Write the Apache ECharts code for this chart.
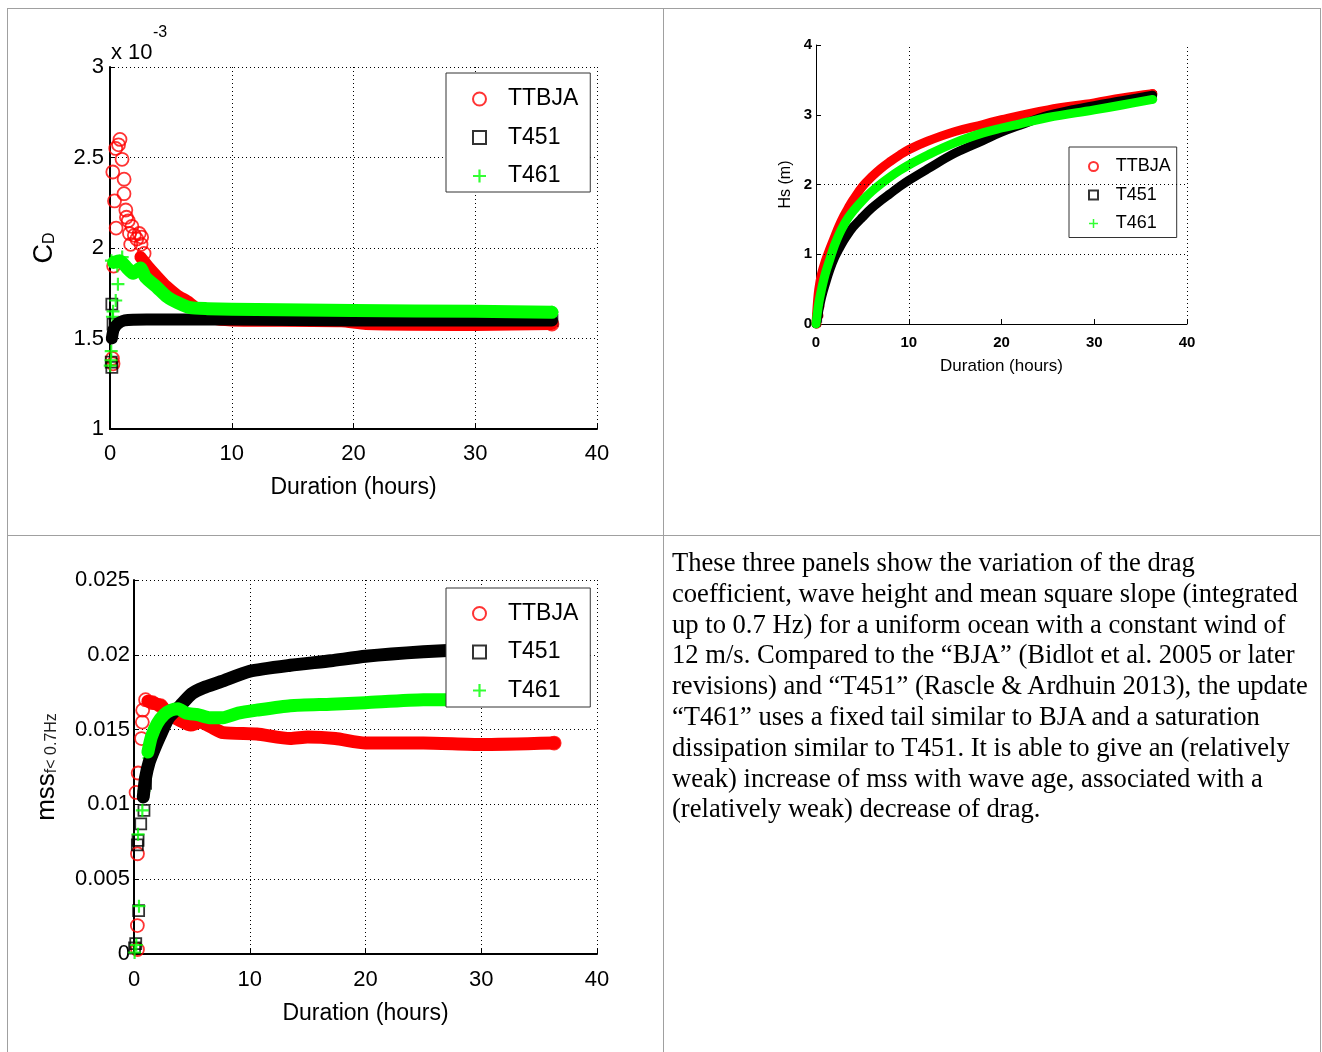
<!DOCTYPE html>
<html>
<head>
<meta charset="utf-8">
<script src="https://cdn.jsdelivr.net/npm/echarts@6/dist/echarts.min.js"></script>
<style>
    body { margin: 0; background: #fff; }
    #chart { position: absolute; left: 0; top: 0; width: 1322px; height: 1052px; }
    .rule { position: absolute; background: #a0a0a0; }
    #caption {
        position: absolute; left: 672px; top: 547px;
        font-family: "Liberation Serif", "Times New Roman", serif;
        font-size: 26.6px; line-height: 30.8px; color: #000; white-space: nowrap;
    }
</style>
</head>
<body>
<div id="chart"></div>
<div class="rule" style="left:7px;top:8px;width:1314px;height:1px"></div>
<div class="rule" style="left:7px;top:8px;width:1px;height:1044px"></div>
<div class="rule" style="left:1320px;top:8px;width:1px;height:1044px"></div>
<div class="rule" style="left:663px;top:8px;width:1px;height:1044px"></div>
<div class="rule" style="left:7px;top:535px;width:1314px;height:1px"></div>
<div id="caption">These three panels show the variation of the drag<br>coefficient, wave height and mean square slope (integrated<br>up to 0.7 Hz) for a uniform ocean with a constant wind of<br>12 m/s. Compared to the “BJA” (Bidlot et al. 2005 or later<br>revisions) and “T451” (Rascle &amp; Ardhuin 2013), the update<br>“T461” uses a fixed tail similar to BJA and a saturation<br>dissipation similar to T451. It is able to give an (relatively<br>weak) increase of mss with wave age, associated with a<br>(relatively weak) decrease of drag.</div>

<script>
    // series names, in legend order
    const names = ['TTBJA', 'T451', 'T461'];

    // panel 1: drag coefficient C_D (x 10^-3) vs duration (hours)
    const cdBjaMarks = [[0.23, 2.42], [0.37, 2.26], [0.47, 2.55], [0.5, 2.11], [0.3, 1.90], [0.2, 1.39], [0.25, 1.36],
        [0.82, 2.60], [0.7, 2.57], [0.99, 2.49], [1.16, 2.38], [1.15, 2.30], [1.3, 2.21], [1.35, 2.17], [1.5, 2.15],
        [1.6, 2.08], [1.8, 2.12], [2.0, 2.07], [2.2, 2.05], [2.4, 2.08], [2.55, 2.02], [2.6, 2.06], [1.7, 2.02],
        [2.8, 1.97], [36.3, 1.58]];
    const cdBjaBand = [[2.5, 1.95], [3.1, 1.90], [3.9, 1.84], [4.6, 1.79], [5.5, 1.74], [6.5, 1.70], [7.2, 1.66],
        [8.5, 1.61], [10, 1.60], [19, 1.595], [21, 1.58], [30, 1.575], [36.3, 1.58]];
    const cd451Marks = [[0.1, 1.37], [0.15, 1.34], [0.15, 1.69], [0.25, 1.58], [36.3, 1.60]];
    const cd451Band = [[0.15, 1.50], [0.3, 1.55], [0.6, 1.58], [1.2, 1.60], [3, 1.605], [10, 1.605], [20, 1.60],
        [30, 1.60], [36.3, 1.60]];
    const cd461Marks = [[0.02, 1.35], [0.1, 1.43], [0.08, 1.38], [0.2, 1.62], [0.25, 1.65], [0.47, 1.71], [0.65, 1.80],
        [0.12, 1.93], [1.0, 1.95], [0.6, 1.90], [36.3, 1.645]];
    const cd461Band = [[0.3, 1.92], [0.8, 1.93], [1.4, 1.89], [1.9, 1.86], [2.5, 1.89], [2.9, 1.84], [3.9, 1.78],
        [4.7, 1.73], [5.5, 1.70], [6.6, 1.67], [8, 1.665], [12, 1.66], [20, 1.655], [30, 1.65], [36.3, 1.645]];

    // panel 2: significant wave height Hs (m)
    const hsBjaMarks = [[0.1, 0.0], [0.3, 0.12], [0.4, 0.25], [36.3, 3.30]];
    const hsBjaBand = [[0, 0], [0.15, 0.3], [0.3, 0.5], [0.6, 0.72], [1, 0.9], [1.5, 1.08], [2, 1.25], [2.5, 1.41],
        [3, 1.55], [3.5, 1.67], [4, 1.78], [5, 1.97], [6, 2.11], [7, 2.23], [8, 2.33], [9, 2.42], [10, 2.50],
        [12, 2.62], [15, 2.76], [18, 2.86], [20, 2.93], [25, 3.07], [30, 3.17], [33, 3.24], [36.3, 3.30]];
    const hs451Marks = [[0.05, 0.02], [0.2, 0.08], [0.3, 0.15], [36.3, 3.28]];
    const hs451Band = [[0, 0], [0.3, 0.19], [0.6, 0.38], [1, 0.57], [1.5, 0.78], [2, 0.95], [2.5, 1.08], [3, 1.2],
        [3.5, 1.3], [4, 1.39], [5, 1.53], [6, 1.66], [7, 1.77], [8, 1.87], [9, 1.97], [10, 2.06], [12, 2.22],
        [15, 2.45], [18, 2.63], [20, 2.75], [22, 2.85], [25, 2.99], [30, 3.13], [33, 3.2], [36.3, 3.28]];
    const hs461Marks = [[0.0, 0.05], [0.1, 0.15], [0.2, 0.3], [0.3, 0.45], [36.3, 3.22]];
    const hs461Band = [[0, 0], [0.3, 0.3], [0.6, 0.5], [1, 0.72], [1.5, 0.93], [2, 1.13], [2.5, 1.29], [3, 1.42],
        [3.5, 1.53], [4, 1.62], [5, 1.77], [6, 1.9], [7, 2.01], [8, 2.11], [9, 2.2], [10, 2.28], [12, 2.42],
        [15, 2.6], [18, 2.74], [20, 2.81], [22, 2.87], [25, 2.96], [30, 3.07], [33, 3.14], [36.3, 3.22]];
    const hsGridX = [10, 40];
    const hsGridY = [1, 2];

    // panel 3: mean square slope, f < 0.7 Hz
    const mssBjaMarks = [[0.29, 0.0019], [0.3, 0.0003], [0.3, 0.0067], [0.18, 0.0108], [0.36, 0.0121], [0.65, 0.0144],
        [0.72, 0.0155], [0.75, 0.0163], [1.0, 0.0170], [1.6, 0.0168], [2.3, 0.0166], [36.3, 0.0141]];
    const mssBjaBand = [[1.2, 0.0169], [2.3, 0.0166], [3.1, 0.0160], [4.0, 0.0156], [4.9, 0.0153], [5.7, 0.0155],
        [6.6, 0.0152], [7.7, 0.0148], [10.6, 0.0147], [13.5, 0.0144], [15, 0.0145], [17.4, 0.0144], [20, 0.0141],
        [25, 0.0141], [30, 0.0140], [36.3, 0.0141]];
    const mss451Marks = [[0.05, 0.0004], [0.15, 0.0007], [0.4, 0.0029], [0.29, 0.0073], [0.35, 0.0076],
        [0.58, 0.0087], [0.86, 0.0096], [1.0, 0.0114]];
    const mss451Band = [[0.8, 0.0105], [1.0, 0.0118], [1.3, 0.0128], [1.7, 0.0136], [2.2, 0.0145], [3, 0.0158],
        [4, 0.0166], [5, 0.0174], [6, 0.0178], [7.5, 0.0182], [10, 0.0189], [13.5, 0.0193], [17, 0.0196],
        [20, 0.0199], [25, 0.0202], [30, 0.0204], [36.3, 0.0206]];
    const mss461Marks = [[0.05, 0.0001], [0.2, 0.0006], [0.43, 0.0032], [0.35, 0.0080], [0.72, 0.0096],
        [0.86, 0.0109], [1.0, 0.0118], [1.3, 0.0131]];
    const mss461Band = [[1.2, 0.0135], [1.5, 0.0145], [2, 0.0154], [2.6, 0.0160], [3.2, 0.0163], [3.8, 0.0164],
        [4.5, 0.0161], [5.5, 0.0160], [6.5, 0.0158], [7.7, 0.0158], [9, 0.0161], [10.6, 0.0163], [13.5, 0.0166],
        [17, 0.0167], [20, 0.0168], [25, 0.0170], [30, 0.0170], [36.3, 0.0171]];

    const FONT = '"Liberation Sans", Arial, sans-serif';
    const RED = '#ff0000', BLACK = '#000000', GREEN = '#00ff00';
    const PLUS = 'path://M5,0H7V5H12V7H7V12H5V7H0V5H5Z';
    const kinds = ['o', 's', '+'];
    const colors = [RED, BLACK, GREEN];

    const markStyle = (kind, color, bw) => {
        if (kind === '+') return { symbol: PLUS, itemStyle: { color: color, borderWidth: 0 } };
        return {
            symbol: kind === 'o' ? 'circle' : 'rect',
            itemStyle: { color: 'rgba(0,0,0,0)', borderColor: color, borderWidth: bw }
        };
    };

    const band = (gi, i, data, width, smooth) => ({
        type: 'line', name: names[i] + ' band', data: data,
        xAxisIndex: gi, yAxisIndex: gi, symbol: 'none', smooth: smooth, silent: true,
        lineStyle: { color: colors[i], width: width, cap: 'round', join: 'round' }
    });

    const marks = (gi, i, data, size, bw) => Object.assign({
        type: 'scatter', name: names[i], data: data,
        xAxisIndex: gi, yAxisIndex: gi, symbolSize: size, silent: true
    }, markStyle(kinds[i], colors[i], bw));

    const legend = (left, top, fontSize, icon, padding, gap, textPad) => ({
        orient: 'vertical', left: left, top: top, padding: padding, itemGap: gap,
        itemWidth: icon, itemHeight: icon, align: 'left',
        backgroundColor: '#fff', borderColor: '#333', borderWidth: 1, borderRadius: 0,
        selectedMode: false,
        data: names.map((n, i) => ({
            name: n,
            icon: markStyle(kinds[i], colors[i]).symbol,
            itemStyle: markStyle(kinds[i], colors[i], 2).itemStyle
        })),
        formatter: n => '{t|' + n + '}',
        textStyle: {
            fontSize: fontSize, fontFamily: FONT, color: '#000',
            rich: { t: { fontSize: fontSize, fontFamily: FONT, color: '#000', padding: [0, 0, 0, textPad] } }
        }
    });

    const gridLine = { show: true, lineStyle: { color: '#000', width: 1, type: [1, 3] } };

    const xAxis = (gi, fontSize, margin, nameSize, nameGap, lineW, splitShow) => ({
        type: 'value', gridIndex: gi, min: 0, max: 40, interval: 10,
        name: 'Duration (hours)', nameLocation: 'middle', nameGap: nameGap,
        nameTextStyle: { fontSize: nameSize, fontFamily: FONT, color: '#000' },
        axisLine: { onZero: false, lineStyle: { color: '#000', width: lineW } },
        axisTick: { inside: true, length: 5, lineStyle: { color: '#000' } },
        axisLabel: { color: '#000', fontSize: fontSize, fontFamily: FONT, margin: margin,
            fontWeight: gi === 1 ? 'bold' : 'normal' },
        splitLine: splitShow ? gridLine : { show: false }
    });

    const yAxis = (gi, min, max, interval, fontSize, margin, name, rich, nameGap, lineW, splitShow) => ({
        type: 'value', gridIndex: gi, min: min, max: max, interval: interval,
        name: name, nameLocation: 'middle', nameRotate: 90, nameGap: nameGap,
        nameTextStyle: { fontFamily: FONT, color: '#000', rich: rich },
        axisLine: { onZero: false, lineStyle: { color: '#000', width: lineW } },
        axisTick: { inside: true, length: 5, lineStyle: { color: '#000' } },
        axisLabel: { color: '#000', fontSize: fontSize, fontFamily: FONT, margin: margin,
            fontWeight: gi === 1 ? 'bold' : 'normal' },
        splitLine: splitShow ? gridLine : { show: false }
    });

    const option = {
        animation: false,
        backgroundColor: 'rgba(0,0,0,0)',
        grid: [
            { left: 110, top: 67, width: 487, height: 362, outerBoundsMode: 'none' },
            { left: 816, top: 45, width: 371, height: 279, outerBoundsMode: 'none' },
            { left: 134, top: 580, width: 463, height: 374, outerBoundsMode: 'none' }
        ],
        xAxis: [
            xAxis(0, 22, 14, 23, 47, 2, true),
            xAxis(1, 15, 11, 17, 34, 1, false),
            xAxis(2, 22, 15, 23, 48, 2, true)
        ],
        yAxis: [
            yAxis(0, 1, 3, 0.5, 22, 6, '{c|C}{d|D}', {
                c: { fontSize: 27, fontFamily: FONT, color: '#000' },
                d: { fontSize: 16, fontFamily: FONT, color: '#000', verticalAlign: 'bottom' }
            }, 52, 2, true),
            yAxis(1, 0, 4, 1, 15, 4, '{h|Hs (m)}', {
                h: { fontSize: 16, fontFamily: FONT, color: '#000' }
            }, 22, 1, false),
            yAxis(2, 0, 0.025, 0.005, 22, 4, '{m|mss}{s|f< 0.7Hz}', {
                m: { fontSize: 26, fontFamily: FONT, color: '#000' },
                s: { fontSize: 16, fontFamily: FONT, color: '#222', verticalAlign: 'bottom' }
            }, 74, 2, true)
        ],
        legend: [
            legend(446, 73, 23, 13, [14.5, 12, 4.5, 26], 15.5, 17),
            legend(1069, 147, 18, 9, [10.5, 6, 5, 19], 10.5, 12.7),
            legend(446, 588, 23, 13, [14, 12, 5, 26], 15.5, 17)
        ],
        graphic: [
            { type: 'text', left: 111, top: 42, style: { text: 'x 10', font: '22px ' + FONT, fill: '#000' } },
            { type: 'text', left: 153, top: 25, style: { text: '-3', font: '16px ' + FONT, fill: '#000' } }
        ],
        series: [
            band(0, 0, cdBjaBand, 12, 0.2), marks(0, 0, cdBjaMarks, 13, 1.8),
            band(0, 1, cd451Band, 12, 0.2), marks(0, 1, cd451Marks, 11, 1.8),
            band(0, 2, cd461Band, 13, 0.2), marks(0, 2, cd461Marks, 13, 0),

            Object.assign(band(1, 0, hsBjaBand, 9, 0.4), {
                markLine: {
                    silent: true, symbol: 'none', label: { show: false },
                    lineStyle: { color: '#000', width: 1, type: [1, 3] },
                    data: hsGridX.map(v => ({ xAxis: v })).concat(hsGridY.map(v => ({ yAxis: v })))
                }
            }),
            marks(1, 0, hsBjaMarks, 8, 1.5),
            band(1, 1, hs451Band, 9, 0.4), marks(1, 1, hs451Marks, 7, 1.5),
            band(1, 2, hs461Band, 9, 0.4), marks(1, 2, hs461Marks, 9, 0),

            band(2, 0, mssBjaBand, 13, 0.2), marks(2, 0, mssBjaMarks, 13, 1.8),
            band(2, 1, mss451Band, 13, 0.2), marks(2, 1, mss451Marks, 11, 1.8),
            band(2, 2, mss461Band, 13, 0.2), marks(2, 2, mss461Marks, 13, 0)
        ]
    };

    const myChart = echarts.init(document.getElementById('chart'));
    myChart.setOption(option);
</script>
</body>
</html>
